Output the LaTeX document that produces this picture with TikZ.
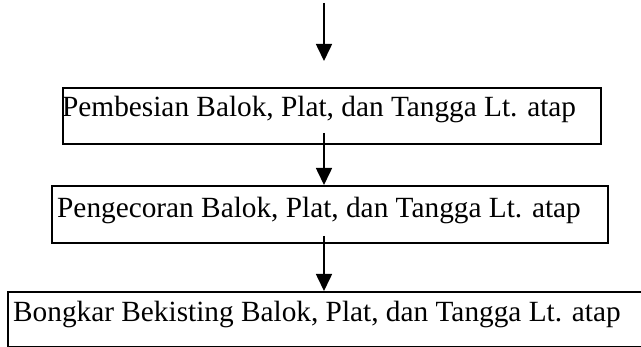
\documentclass[tikz,border=0pt]{standalone}
\usepackage{fontspec}
\setmainfont{Liberation Serif}
\usetikzlibrary{arrows.meta}
\begin{document}
\begin{tikzpicture}[x=1pt,y=-1pt,
  stepbox/.style={draw, line width=1.6pt, inner sep=0pt, anchor=north west},
  steptext/.style={anchor=base west, inner sep=0pt, font=\fontsize{29.3}{32}\selectfont},
  flow/.style={line width=1.6pt, -{Triangle[width=16pt,length=17pt]}}]
  \useasboundingbox (0,0) rectangle (641,347);
  % boxes
  \node[stepbox, minimum width=538pt, minimum height=56pt] (b1) at (62,87) {};
  \node[stepbox, minimum width=556pt, minimum height=57pt] (b2) at (51,185) {};
  \node[stepbox, minimum width=640pt, minimum height=55pt] (b3) at (7,291) {};
  % labels
  \node[steptext] (t1) at (62,117) {Pembesian Balok, Plat, dan Tangga Lt. atap};
  \node[steptext] (t2) at (57,218) {Pengecoran Balok, Plat, dan Tangga Lt. atap};
  \node[steptext] (t3) at (13,322) {Bongkar Bekisting Balok, Plat, dan Tangga Lt. atap};
  % connectors
  \coordinate (in) at (324,3);
  \coordinate (intip) at (324,61);
  \coordinate (s2) at (324,133);
  \coordinate (s3) at (324,236);
  \draw[flow] (in) -- (intip);
  \draw[flow] (s2) -- (s2 |- b2.north);
  \draw[flow] (s3) -- (s3 |- b3.north);
\end{tikzpicture}
\end{document}
